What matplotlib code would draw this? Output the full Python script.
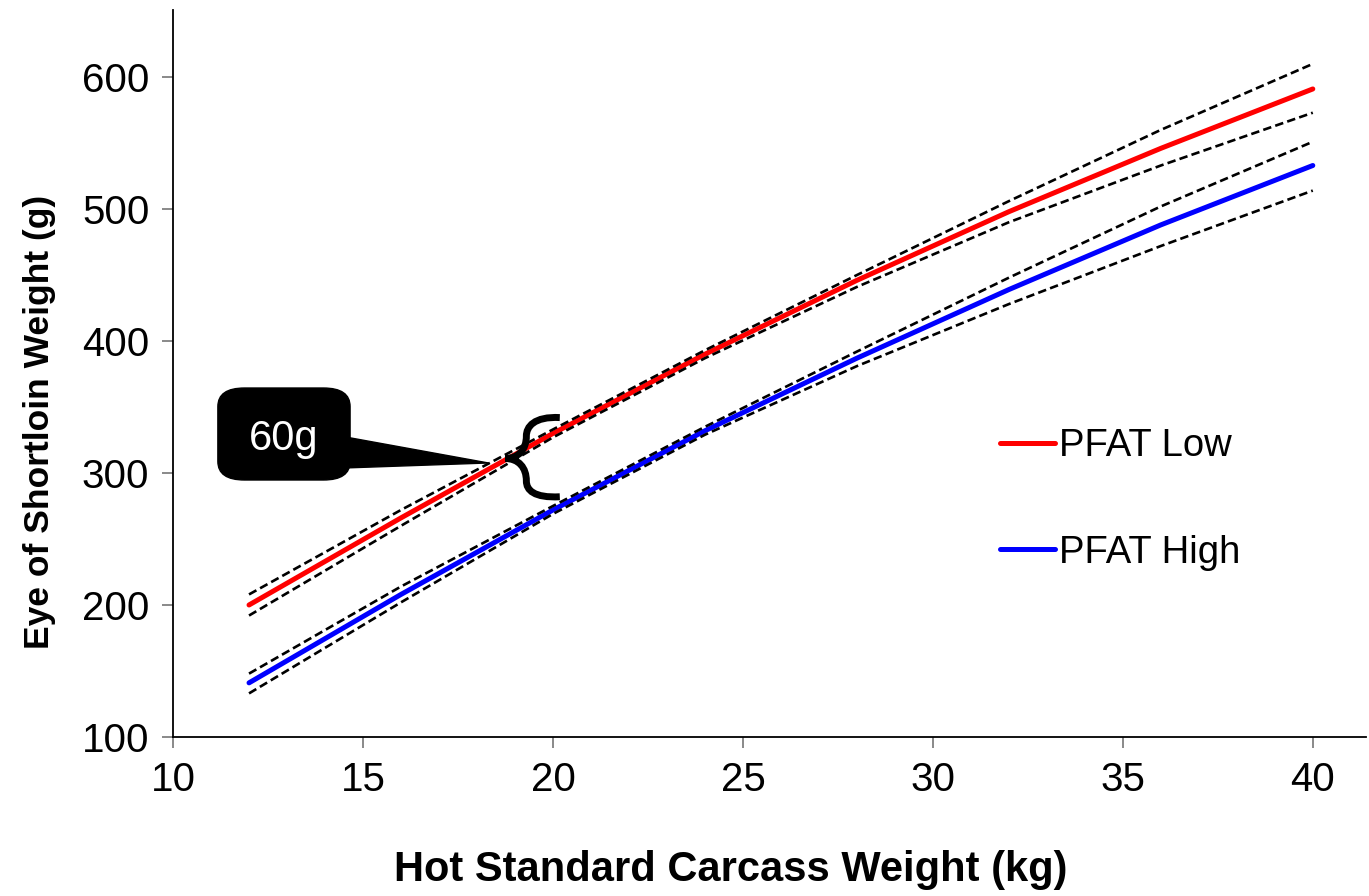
import matplotlib
matplotlib.use('Agg')
import matplotlib.pyplot as plt
from matplotlib.patches import FancyBboxPatch, Polygon, PathPatch
from matplotlib.path import Path

plt.rcParams['font.family'] = ['Liberation Sans', 'DejaVu Sans']

# values
hscw = [12, 16, 20, 24, 28, 32, 36, 40]
low_fit = [200, 266, 330, 390, 446, 498, 546, 591]
low_upper = [208, 272, 333, 393, 450, 506, 560, 610]
low_lower = [192, 260, 327, 387, 441, 490, 533, 573]
high_fit = [141, 208, 272, 332, 387, 439, 488, 533]
high_upper = [148, 214, 275, 335, 392, 448, 502, 551]
high_lower = [133, 202, 269, 329, 381, 428, 472, 514]
series_labels = ['PFAT Low', 'PFAT High']
callout_text = '60g'


def main():
    fig = plt.figure(figsize=(13.69, 8.96), dpi=100)
    ax = fig.add_axes([0.1264, 0.1775, 0.8714, 0.8113])

    dash = (0, (3.2, 1.6))
    for up, lo in [(low_upper, low_lower), (high_upper, high_lower)]:
        ax.plot(hscw, up, color='black', lw=1.9, ls=dash, zorder=3)
        ax.plot(hscw, lo, color='black', lw=1.9, ls=dash, zorder=3)
    l1, = ax.plot(hscw, low_fit, color='#ff0000', lw=3.6, solid_capstyle='round', zorder=2, label=series_labels[0])
    l2, = ax.plot(hscw, high_fit, color='#0000ff', lw=3.6, solid_capstyle='round', zorder=2, label=series_labels[1])

    ax.set_xlim(10, 41.4)
    ax.set_ylim(100, 650.8)
    ax.set_xticks([10, 15, 20, 25, 30, 35, 40])
    ax.set_yticks([100, 200, 300, 400, 500, 600])
    ax.tick_params(direction='out', length=8, width=1.3, color='#808080',
                   labelsize=29, pad=9)
    for s in ['top', 'right']:
        ax.spines[s].set_visible(False)
    for s in ['left', 'bottom']:
        ax.spines[s].set_linewidth(1.3)

    fig.text(0.534, 0.029, 'Hot Standard Carcass Weight (kg)', ha='center', va='center',
             fontsize=30, fontweight='bold')
    fig.text(0.029, 0.529, 'Eye of Shortloin Weight (g)', ha='center', va='center',
             rotation=90, fontsize=25.5, fontweight='bold')

    ax.legend(handles=[l1, l2], loc='center left', bbox_to_anchor=(0.693, 0.327),
              frameon=False, fontsize=27.5, handlelength=1.45, handletextpad=0.1,
              labelspacing=1.85, borderpad=0, borderaxespad=0)

    # callout box with pointer
    box = FancyBboxPatch((11.18, 294.7), 3.48, 69.7,
                         boxstyle='round,pad=0,rounding_size=0.7',
                         mutation_aspect=20, fc='black', ec='black', zorder=5)
    ax.add_patch(box)
    ax.add_patch(Polygon([(14.5, 327.5), (14.5, 303.8), (18.3, 307.6)],
                         closed=True, fc='black', ec='black', zorder=5))
    ax.text(12.92, 326, callout_text, color='white', fontsize=30,
            ha='center', va='center', zorder=6)

    # curly brace spanning the gap between the two lines
    verts = [(20.18, 342), (19.5, 343), (19.3, 335), (19.3, 328),
             (19.3, 318), (19.1, 311), (18.74, 311),
             (19.1, 311), (19.3, 304), (19.3, 294),
             (19.3, 287), (19.5, 281), (20.18, 282)]
    codes = [Path.MOVETO, Path.CURVE4, Path.CURVE4, Path.CURVE4,
             Path.CURVE4, Path.CURVE4, Path.CURVE4,
             Path.CURVE4, Path.CURVE4, Path.CURVE4,
             Path.CURVE4, Path.CURVE4, Path.CURVE4]
    ax.add_patch(PathPatch(Path(verts, codes), fill=False, ec='black', lw=5,
                           capstyle='butt', zorder=5))

    fig.savefig('out.png', dpi=100)


if __name__ == '__main__':
    main()
